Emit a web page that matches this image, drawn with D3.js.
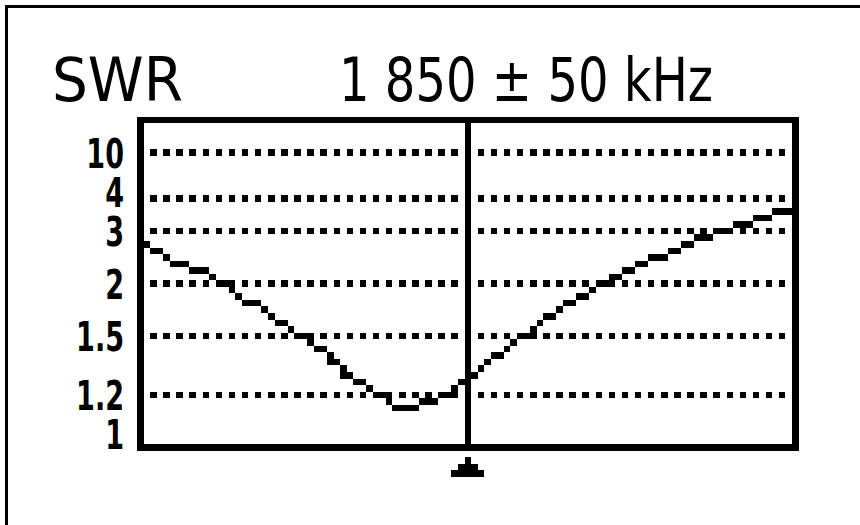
<!DOCTYPE html>
<html>
<head>
<meta charset="utf-8">
<script src="https://cdn.jsdelivr.net/npm/d3@7"></script>
<style>
  body { margin: 0; background: #fff; }
  svg { display: block; }
  text { fill: #000; }
</style>
</head>
<body>
<div id="chart"></div>
<script>
var title = "SWR";
var centerFreq = 1850;   // kHz
var halfSpan = 50;       // kHz
var swrTicks = [10, 4, 3, 2, 1.5, 1.2, 1];

// one reading per kHz, 1800 .. 1900
var swrValues = [
  2.75, 2.75, 2.63, 2.63, 2.5, 2.38, 2.38, 2.38, 2.25, 2.25,
  2.25, 2.13, 2.0, 2.0, 1.94, 1.88, 1.81, 1.81, 1.81, 1.75,
  1.69, 1.63, 1.63, 1.56, 1.5, 1.5, 1.47, 1.43, 1.43, 1.37,
  1.37, 1.3, 1.3, 1.27, 1.27, 1.23, 1.2, 1.2, 1.18, 1.15,
  1.15, 1.15, 1.15, 1.18, 1.18, 1.18, 1.2, 1.2, 1.23, 1.27,
  1.27, 1.3, 1.33, 1.37, 1.4, 1.4, 1.43, 1.47, 1.5, 1.5,
  1.56, 1.63, 1.69, 1.69, 1.75, 1.81, 1.81, 1.88, 1.88, 1.94,
  2.0, 2.0, 2.13, 2.13, 2.25, 2.25, 2.38, 2.38, 2.5, 2.5,
  2.5, 2.63, 2.63, 2.75, 2.75, 2.88, 2.88, 2.88, 3.0, 3.0,
  3.0, 3.2, 3.2, 3.2, 3.4, 3.4, 3.4, 3.6, 3.6, 3.6,
  3.6
];
var freqs = d3.range(centerFreq - halfSpan, centerFreq + halfSpan + 1);

(function() {
  var width = 860;
  var height = 525;

  // lcd grid
  var P = 6.55;
  var X0 = 137, Y0 = 116.5;
  var nCols = 101, nRows = 51;

  var svg = d3.select("#chart")
    .append("svg")
    .attr("width", width)
    .attr("height", height)
    .attr("shape-rendering", "crispEdges");

  // outer border of the photo
  svg.append("rect").attr("x", 5).attr("y", 5).attr("width", width - 5).attr("height", 2.5).attr("fill", "#000");
  svg.append("rect").attr("x", 5).attr("y", 5).attr("width", 2.5).attr("height", height - 5).attr("fill", "#000");

  var xCol = d3.scaleLinear()
    .domain([centerFreq - halfSpan, centerFreq + halfSpan])
    .range([0, nCols - 1]);

  var yRow = d3.scaleLinear()
    .domain([1, 1.2, 1.5, 2, 3, 4, 10])
    .range([50, 42, 33, 25, 17, 12, 5]);

  function px(c) { return X0 + c * P; }
  function py(r) { return Y0 + r * P; }

  var lcd = svg.append("g");

  function dot(c, r, h) {
    lcd.append("rect")
      .attr("x", px(c))
      .attr("y", py(r))
      .attr("width", P)
      .attr("height", (h || 1) * P)
      .attr("fill", "#000");
  }

  // frame
  lcd.append("rect").attr("x", px(0)).attr("y", py(0)).attr("width", nCols * P).attr("height", P);
  lcd.append("rect").attr("x", px(0)).attr("y", py(nRows - 1)).attr("width", nCols * P).attr("height", P);
  lcd.append("rect").attr("x", px(0)).attr("y", py(0)).attr("width", P).attr("height", nRows * P);
  lcd.append("rect").attr("x", px(nCols - 1)).attr("y", py(0)).attr("width", P).attr("height", nRows * P);

  // centre marker line
  var cMid = Math.round(xCol(centerFreq));
  lcd.append("rect").attr("x", px(cMid)).attr("y", py(0)).attr("width", P).attr("height", nRows * P);

  // dotted grid lines
  swrTicks.filter(function(t) { return t > 1; }).forEach(function(t) {
    var r = Math.round(yRow(t));
    d3.range(2, nCols - 1, 2).forEach(function(c) {
      if (c !== cMid) dot(c, r);
    });
  });

  // trace
  var prev = null;
  freqs.forEach(function(f, i) {
    var c = Math.round(xCol(f));
    var r = Math.round(yRow(swrValues[i]));
    var r0 = r, r1 = r;
    if (prev !== null) {
      if (r - prev > 1) r0 = prev + 1;
      if (prev - r > 1) r1 = prev - 1;
    }
    dot(c, r0, r1 - r0 + 1);
    prev = r;
  });

  // triangle under centre
  dot(cMid, nRows + 1);
  lcd.append("rect").attr("x", px(cMid - 1)).attr("y", py(nRows + 2)).attr("width", 3 * P).attr("height", P);
  lcd.append("rect").attr("x", px(cMid - 2)).attr("y", py(nRows + 3)).attr("width", 5 * P).attr("height", P);

  // y labels
  var nudge = {4: -1, 1: -2};
  var labels = svg.append("g")
    .attr("transform", "translate(124,0) scale(0.66,1)");
  labels.selectAll("text")
    .data(swrTicks)
    .enter().append("text")
    .attr("x", 0)
    .attr("y", function(d) {
      return py(Math.round(yRow(d)) + (nudge[d] || 0)) + P / 2 + 15;
    })
    .attr("text-anchor", "end")
    .attr("font-family", "DejaVu Sans")
    .attr("font-weight", "bold")
    .attr("font-size", 41)
    .text(function(d) { return d; });

  // header
  svg.append("text")
    .attr("x", 52)
    .attr("y", 101)
    .attr("font-family", "DejaVu Sans")
    .attr("font-size", 60)
    .attr("textLength", 131)
    .attr("lengthAdjust", "spacingAndGlyphs")
    .text(title);

  var freqText = d3.format(",")(centerFreq).replace(",", " ") + " \u00b1 " + halfSpan + " kHz";
  svg.append("text")
    .attr("x", 339)
    .attr("y", 101)
    .attr("font-family", "DejaVu Sans")
    .attr("font-size", 60)
    .attr("textLength", 374)
    .attr("lengthAdjust", "spacingAndGlyphs")
    .text(freqText);
})();
</script>
</body>
</html>
